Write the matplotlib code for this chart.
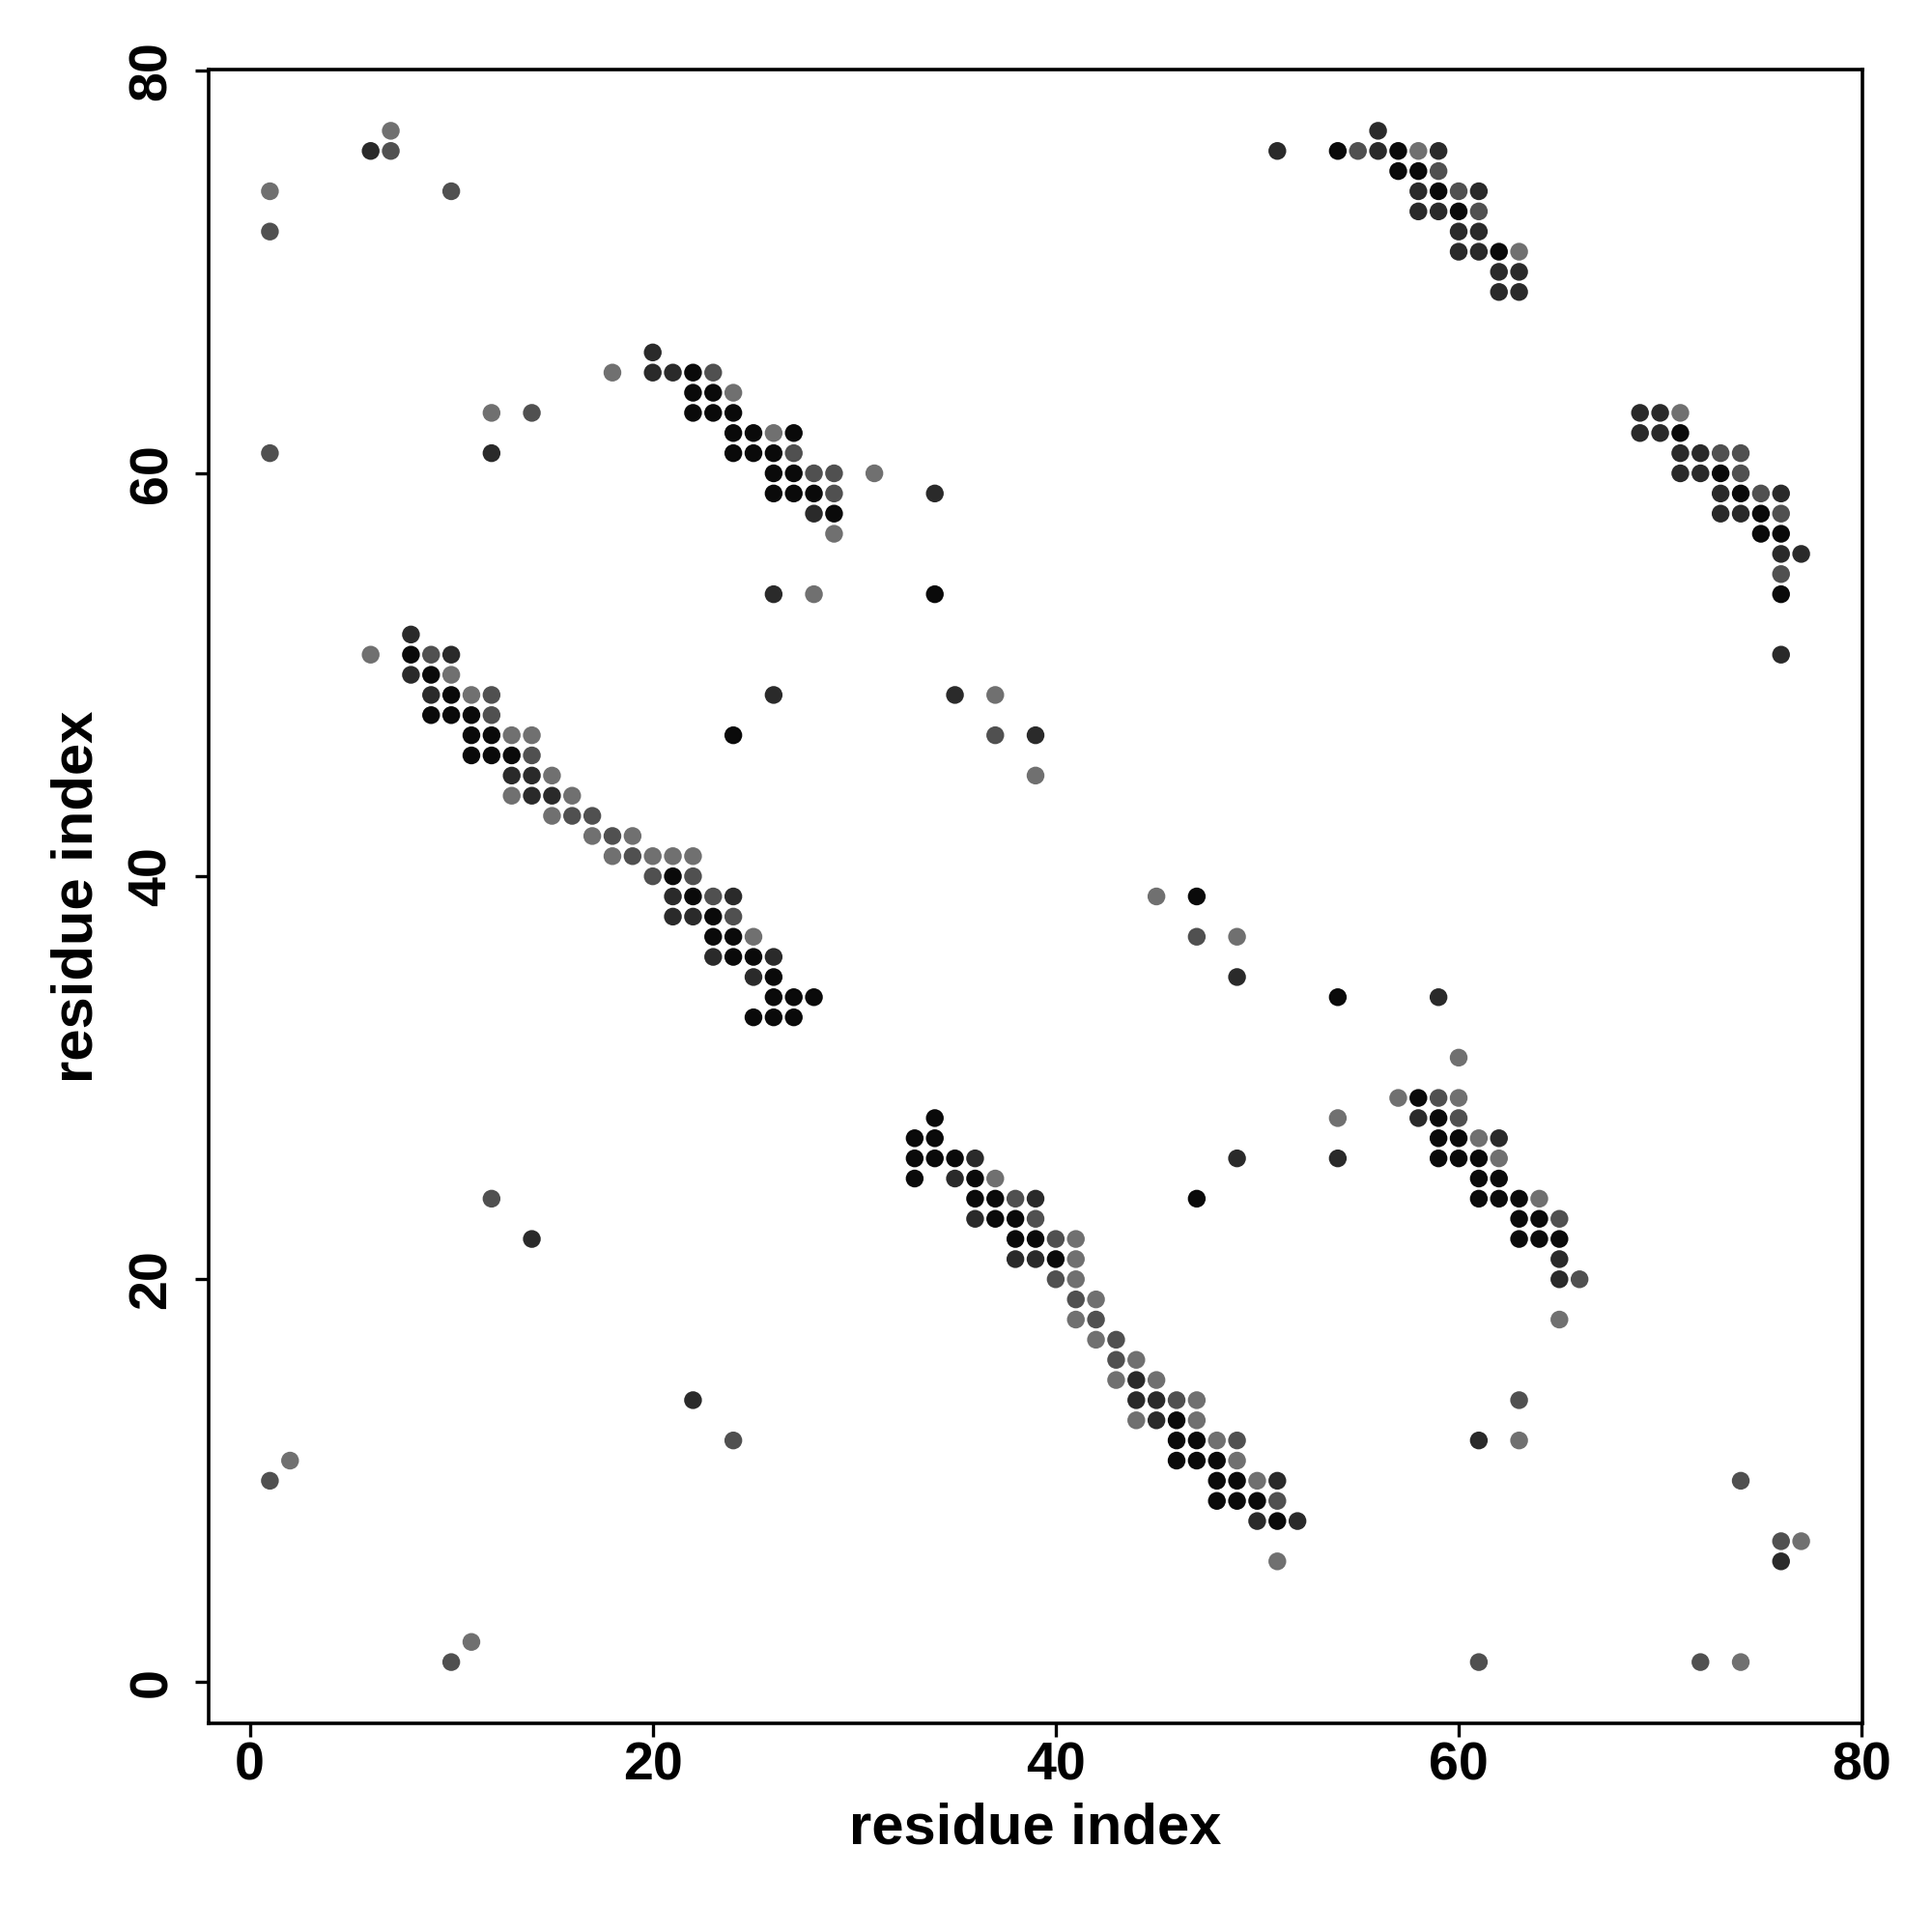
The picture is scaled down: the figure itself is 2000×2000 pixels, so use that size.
import numpy as np
import matplotlib.pyplot as plt

plt.rcParams['font.family'] = ['Liberation Sans', 'DejaVu Sans']
plt.rcParams['font.weight'] = 'bold'

# contactos (i, j) agrupados por intensidade do cinza
contacts_black = [
    (22, 65), (22, 64), (23, 64), (22, 63), (23, 63), (24, 63), (24, 62), (25, 62), (27, 62),
    (24, 61), (25, 61), (26, 61), (26, 60), (27, 60), (26, 59), (27, 59), (28, 59), (29, 58),
    (34, 54),
    (54, 76), (57, 76), (57, 75), (58, 75), (59, 74), (60, 73), (62, 71),
    (71, 62), (73, 60), (74, 59), (75, 58), (75, 57), (76, 57), (76, 54),
    (8, 51), (9, 50), (10, 49), (9, 48), (10, 48), (11, 48), (11, 47), (12, 47), (24, 47),
    (11, 46), (12, 46), (13, 46), (21, 40), (22, 39), (23, 38), (23, 37), (24, 37),
    (24, 36), (25, 36), (26, 35), (26, 34), (27, 34), (28, 34), (25, 33), (26, 33), (27, 33),
    (47, 39), (54, 34), (47, 24),
    (34, 28), (33, 27), (34, 27), (33, 26), (34, 26), (35, 26), (33, 25), (36, 25),
    (36, 24), (37, 24), (37, 23), (38, 23), (38, 22), (39, 22), (40, 21),
    (46, 13), (46, 12), (47, 12), (46, 11), (47, 11), (48, 11), (48, 10), (49, 10),
    (48, 9), (49, 9), (50, 9), (51, 8),
    (58, 29), (59, 28), (59, 27), (60, 27), (59, 26), (60, 26), (61, 26), (61, 25), (62, 25),
    (61, 24), (62, 24), (63, 24), (63, 23), (64, 23), (63, 22), (64, 22), (65, 22),
]
contacts_dark = [
    (6, 76), (12, 61),
    (20, 66), (20, 65), (21, 65), (34, 59), (28, 58), (26, 54),
    (56, 77), (51, 76), (56, 76), (59, 76), (58, 74), (61, 74), (58, 73), (59, 73),
    (60, 72), (61, 72), (60, 71), (61, 71), (62, 70), (63, 70), (62, 69), (63, 69),
    (69, 63), (70, 63), (69, 62), (70, 62), (71, 61), (72, 61), (71, 60), (72, 60),
    (73, 59), (76, 59), (73, 58), (74, 58), (76, 56), (77, 56), (76, 51),
    (8, 52), (10, 51), (8, 50), (9, 49), (13, 45), (14, 45), (14, 44), (15, 44),
    (21, 39), (24, 39), (21, 38), (22, 38), (23, 36), (26, 36), (25, 35), (26, 49),
    (35, 49), (39, 47), (49, 35), (59, 34), (54, 26), (49, 26),
    (36, 26), (35, 25), (39, 24), (36, 23), (38, 21), (39, 21),
    (44, 15), (44, 14), (45, 14), (45, 13), (51, 10), (50, 8), (52, 8),
    (58, 28), (62, 27), (65, 21), (65, 20),
    (14, 22), (22, 14), (61, 12), (76, 6),
]
contacts_mid = [
    (1, 72), (7, 76), (10, 74), (1, 61), (14, 63),
    (23, 65), (27, 61), (28, 60), (29, 60), (29, 59),
    (55, 76), (59, 75), (60, 74), (61, 73),
    (73, 61), (74, 61), (74, 60), (75, 59), (76, 58), (76, 55),
    (9, 51), (12, 49), (12, 48), (14, 46), (16, 43), (17, 43), (18, 42), (19, 41),
    (20, 40), (22, 40), (23, 39), (24, 38),
    (37, 47), (47, 37),
    (38, 24), (39, 23), (40, 22), (40, 20), (41, 19), (42, 18), (43, 17), (43, 16),
    (46, 14), (49, 12), (51, 9),
    (59, 29), (60, 28), (65, 23), (66, 20),
    (12, 24), (1, 10), (10, 1), (24, 12), (63, 14), (74, 10), (76, 7), (61, 1), (72, 1),
]
contacts_light = [
    (1, 74), (7, 77), (12, 63), (18, 65),
    (24, 64), (26, 62), (31, 60), (29, 57), (28, 54),
    (58, 76), (63, 71), (71, 63),
    (6, 51), (10, 50), (11, 49), (13, 47), (14, 47), (15, 45), (13, 44), (16, 44),
    (15, 43), (17, 42), (19, 42), (18, 41), (20, 41), (21, 41), (22, 41), (25, 37),
    (37, 49), (39, 45), (45, 39), (49, 37), (60, 31), (57, 29), (54, 28),
    (37, 25), (41, 22), (41, 21), (41, 20), (42, 19), (41, 18), (42, 17), (44, 16),
    (43, 15), (45, 15), (47, 14), (44, 13), (47, 13), (48, 12), (49, 11), (50, 10), (51, 6),
    (60, 29), (61, 27), (62, 26), (64, 24), (65, 18),
    (2, 11), (11, 2), (63, 12), (77, 7), (74, 1),
]

groups = [
    (contacts_light, '#707070'),
    (contacts_mid, '#505050'),
    (contacts_dark, '#2a2a2a'),
    (contacts_black, '#0a0a0a'),
]

fig = plt.figure(figsize=(10, 10), dpi=200)
ax = fig.add_axes([0.108, 0.108, 0.856, 0.856])

for pts, cor in groups:
    arr = np.array(pts)
    ax.scatter(arr[:, 0], arr[:, 1], s=44, c=cor, edgecolors='none')

ax.set_xlim(-2.04, 80.04)
ax.set_ylim(-2.04, 80.04)
ax.set_xticks([0, 20, 40, 60, 80])
ax.set_yticks([0, 20, 40, 60, 80])
ax.tick_params(axis='both', direction='out', length=5, width=1.2, labelsize=20)
ax.tick_params(axis='x', pad=1.5)
ax.tick_params(axis='y', pad=6.5)
for lab in ax.get_yticklabels():
    lab.set_rotation(90)
    lab.set_va('center')
for sp in ax.spines.values():
    sp.set_linewidth(1.3)

ax.set_xlabel("residue index", fontsize=21.5, fontweight='bold', labelpad=4)
ax.set_ylabel("residue index", fontsize=21.5, fontweight='bold', labelpad=9)

fig.savefig("out.png", dpi=200, facecolor='white')
